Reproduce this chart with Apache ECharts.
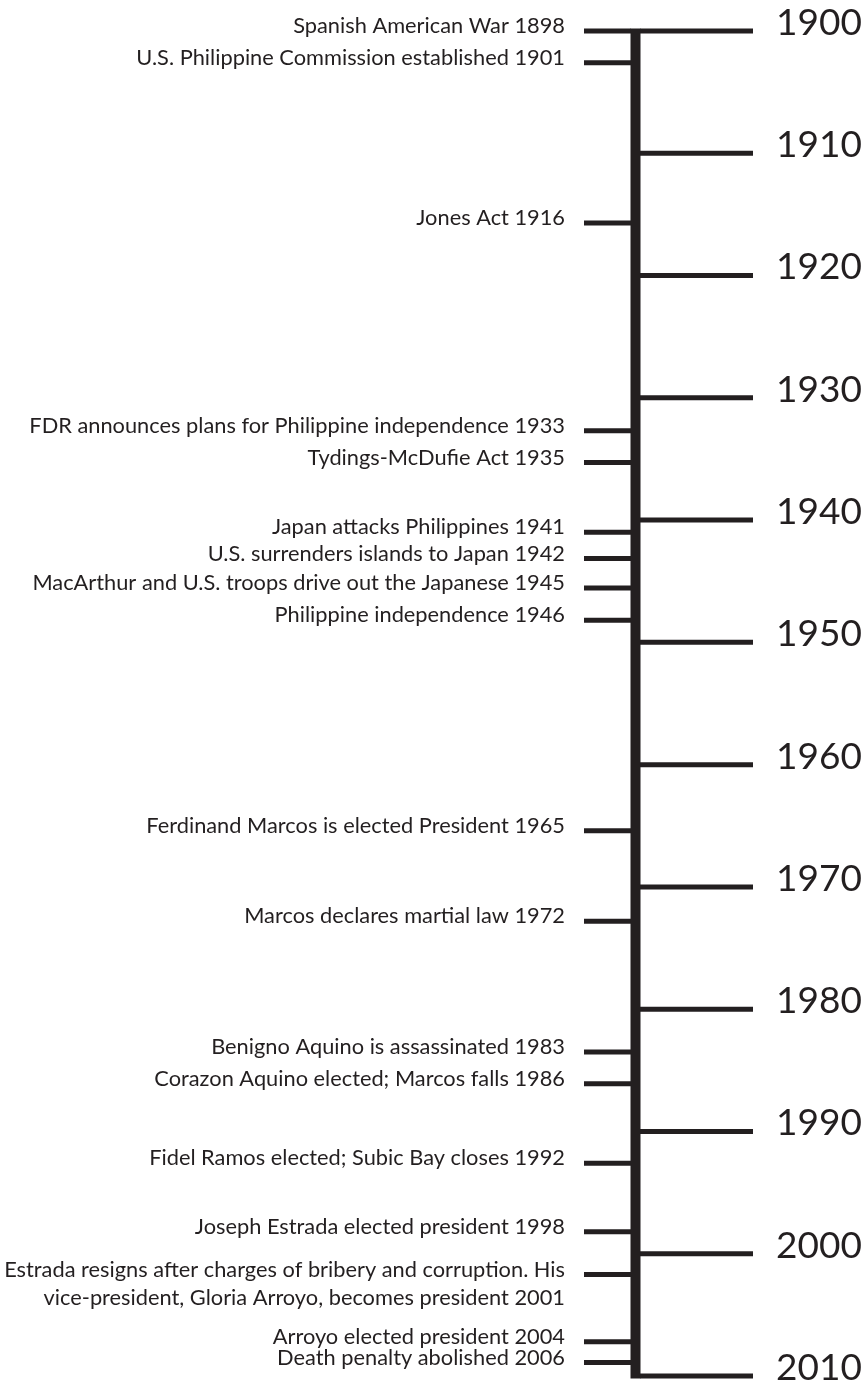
<!DOCTYPE html>
<html>
<head>
<meta charset="utf-8">
<script src="https://cdn.jsdelivr.net/npm/echarts@6/dist/echarts.min.js"></script>
<style>
html,body{margin:0;padding:0;background:#fff;}
#chart{width:866px;height:1389px;}
</style>
</head>
<body>
<div id="chart"></div>
<script>
// Decade marks on the right of the spine
const decadeYears = [1900, 1910, 1920, 1930, 1940, 1950, 1960, 1970, 1980, 1990, 2000, 2010];
// Event labels (left side)
const eventLabels = [
  "Spanish American War 1898",
  "U.S. Philippine Commission established 1901",
  "Jones Act 1916",
  "FDR announces plans for Philippine independence 1933",
  "Tydings-McDufie Act 1935",
  "Japan attacks Philippines 1941",
  "U.S. surrenders islands to Japan 1942",
  "MacArthur and U.S. troops drive out the Japanese 1945",
  "Philippine independence 1946",
  "Ferdinand Marcos is elected President 1965",
  "Marcos declares martial law 1972",
  "Benigno Aquino is assassinated 1983",
  "Corazon Aquino elected; Marcos falls 1986",
  "Fidel Ramos elected; Subic Bay closes 1992",
  "Joseph Estrada elected president 1998",
  "Estrada resigns after charges of bribery and corruption. His\nvice-president, Gloria Arroyo, becomes president 2001",
  "Arroyo elected president 2004",
  "Death penalty abolished 2006"
];
// Where each event tick sits on the time scale (as drawn in the reference)
const eventPositions = [1900.0, 1902.6, 1915.7, 1932.7, 1935.3, 1941.0, 1943.15, 1945.55, 1948.2,
  1965.4, 1972.8, 1983.5, 1986.1, 1992.6, 1998.2, 2001.7, 2007.2, 2008.9];
const spanYears = [1900, 2010];

const INK = '#231f20';
const EVENT_FONT = '21.8px Lato, "Open Sans", sans-serif';
const DECADE_FONT = '37px Lato, "Open Sans", sans-serif';

const chart = echarts.init(document.getElementById('chart'), null, {renderer: 'canvas'});

const option = {
  animation: false,
  backgroundColor: '#ffffff',
  grid: {left: 0, right: 0, top: 31, bottom: 13, containLabel: false},
  xAxis: {type: 'value', min: 0, max: 866, show: false},
  yAxis: {type: 'value', min: spanYears[0], max: spanYears[1], inverse: true, show: false},
  series: [
    {
      // spine
      type: 'custom',
      data: [spanYears],
      renderItem: function (params, api) {
        const p0 = api.coord([635, api.value(0)]);
        const p1 = api.coord([635, api.value(1)]);
        return {
          type: 'rect',
          shape: {x: 630.5, y: p0[1] - 2.6, width: 10, height: p1[1] - p0[1] + 5.2},
          style: {fill: INK}
        };
      }
    },
    {
      // decade ticks + labels
      type: 'custom',
      data: decadeYears.map(y => [y]),
      renderItem: function (params, api) {
        const y = api.value(0);
        const a = api.coord([640, y]);
        const b = api.coord([753, y]);
        return {
          type: 'group',
          children: [
            {type: 'line', shape: {x1: a[0], y1: a[1], x2: b[0], y2: b[1]},
             style: {stroke: INK, lineWidth: 5}},
            {type: 'text', x: 776, y: a[1] - 8,
             style: {text: String(y), fill: INK, font: DECADE_FONT,
                     textAlign: 'left', textVerticalAlign: 'middle'}}
          ]
        };
      }
    },
    {
      // event ticks + labels
      type: 'custom',
      data: eventPositions.map((p, i) => [p, i]),
      renderItem: function (params, api) {
        const pos = api.value(0);
        const idx = api.value(1);
        const a = api.coord([584, pos]);
        const b = api.coord([631, pos]);
        const label = eventLabels[idx];
        const nLines = label.split('\n').length;
        const lh = 28;
        return {
          type: 'group',
          children: [
            {type: 'line', shape: {x1: a[0], y1: a[1], x2: b[0], y2: b[1]},
             style: {stroke: INK, lineWidth: 5}},
            {type: 'text', x: 565, y: a[1] - 5 + (nLines - 1) * lh / 2,
             style: {text: label, fill: INK, font: EVENT_FONT, lineHeight: lh,
                     textAlign: 'right', textVerticalAlign: 'middle'}}
          ]
        };
      }
    }
  ]
};
chart.setOption(option);
</script>
</body>
</html>
